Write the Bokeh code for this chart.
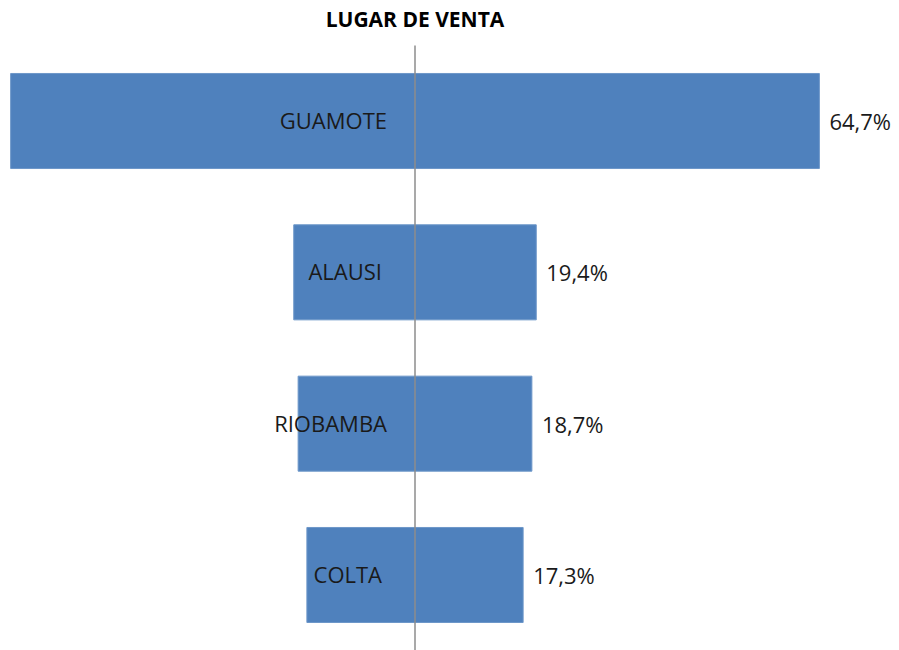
from bokeh.plotting import figure
from bokeh.models import ColumnDataSource, Range1d, Label
from bokeh.core.properties import value
from bokeh.embed import file_html
from bokeh.resources import INLINE

categories = ["GUAMOTE", "ALAUSI", "RIOBAMBA", "COLTA"]
percentages = [64.7, 19.4, 18.7, 17.3]
value_labels = ["64,7%", "19,4%", "18,7%", "17,3%"]
title_text = "LUGAR DE VENTA"

# layout-only settings (pixel offsets of category labels from the centre line)
cat_label_dx = [-28, -33, -28, -33]

W, H = 899, 650
px_per_unit = 12.5
center_px = 414.5
row_px = 151.33
first_row_px = 120.5

x0 = -center_px / px_per_unit
x1 = (W - center_px) / px_per_unit
ytop = -first_row_px / row_px
ybot = (H - first_row_px) / row_px
line_top = ytop + 45 / row_px

p = figure(width=W, height=H, output_backend="svg", toolbar_location=None,
           x_range=Range1d(x0, x1), y_range=Range1d(ybot, ytop),
           min_border=0, outline_line_color=None)
p.xaxis.visible = False
p.yaxis.visible = False
p.xgrid.visible = False
p.ygrid.visible = False

idx = list(range(len(categories)))
src = ColumnDataSource(dict(
    y=idx,
    left=[-v / 2 for v in percentages],
    right=[v / 2 for v in percentages],
    cat=categories,
    lab=value_labels,
    dx=cat_label_dx,
))

p.hbar(y="y", left="left", right="right", height=0.628, source=src,
       fill_color="#4F81BD", line_color="#6d97c9", line_width=1)

# centre line
p.segment(x0=[0], y0=[line_top], x1=[0], y1=[ybot], line_color="#8c8c8c", line_width=1.5)

p.text(x=0, y="y", text="cat", x_offset="dx", y_offset=-1, source=src,
       text_align="right", text_baseline="middle",
       text_font=value("Open Sans"), text_font_size="22px", text_color="#1a1a1a")

p.text(x="right", y="y", text="lab", x_offset=10, source=src,
       text_align="left", text_baseline="middle",
       text_font=value("Open Sans"), text_font_size="22px", text_color="#1a1a1a")

p.add_layout(Label(x=0, y=H - 18, y_units="screen", text=title_text,
                   text_align="center", text_baseline="middle",
                   text_font="Open Sans", text_font_style="bold",
                   text_font_size="21px", text_color="#000000"))

open("out.html", "w").write(file_html(p, INLINE))
